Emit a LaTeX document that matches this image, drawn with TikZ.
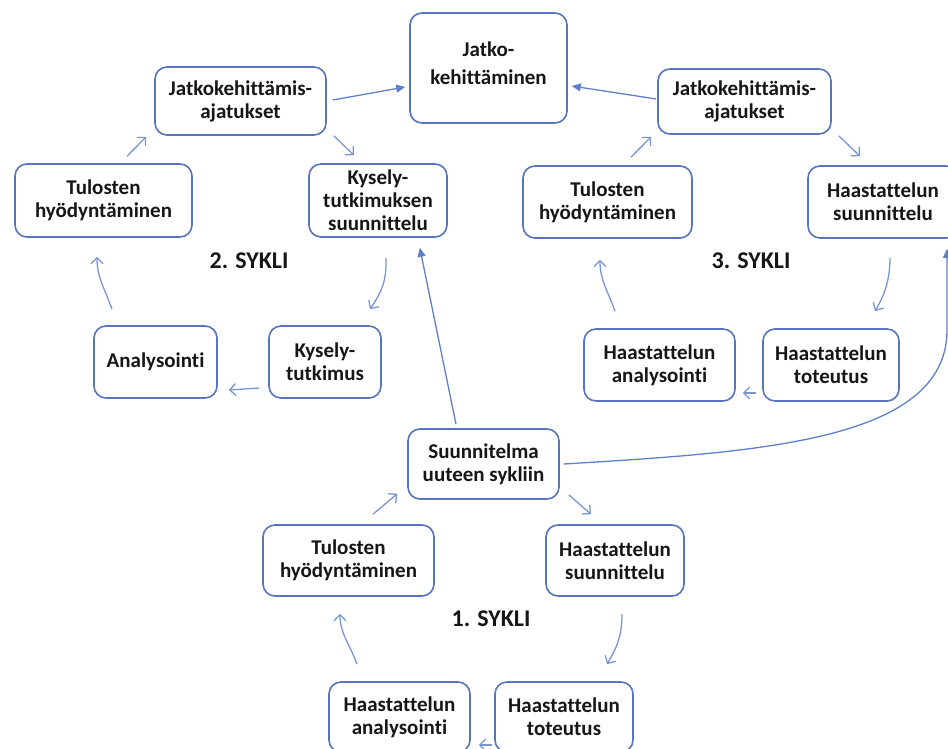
\documentclass[tikz,border=0pt]{standalone}
\usepackage{fontspec}
\setmainfont{Carlito}[RawFeature={-liga;-clig;-dlig}]
\usetikzlibrary{arrows.meta}
\definecolor{boxc}{RGB}{88,116,188}
\definecolor{arrc}{RGB}{122,150,210}
\definecolor{farrc}{RGB}{95,128,200}
\definecolor{txtc}{RGB}{22,22,22}
\begin{document}
\begin{tikzpicture}[x=1pt,y=-1pt,
  box/.style={draw=boxc, line width=1.6pt, rounded corners=12pt, align=center, inner sep=0pt,
    font=\fontsize{21}{23}\selectfont\bfseries, text=txtc},
  bx/.style n args={2}{box, minimum width=#1pt, minimum height=#2pt},
  txt/.style={align=center, inner sep=0pt, font=\fontsize{21}{28}\selectfont\bfseries, text=txtc},
  arr/.style={draw=arrc, line width=1.3pt, -{Straight Barb[length=6pt,width=12pt]}},
  farr/.style={draw=farrc, line width=1.3pt, -{Triangle[length=9pt,width=8pt]}},
  cyc/.style={font=\fontsize{24}{28}\selectfont\bfseries, text=txtc, inner sep=0pt}]
\useasboundingbox (0,0) rectangle (948,749);
\clip (0,0) rectangle (948,749);

% top
\node[bx={157}{110}] (jk) at (488.5,68) {};
\node[txt] (jkt) at (488.5,63) {Jatko-\\kehittäminen};

% cycle 2
\node[bx={171}{68}] (lja) at (240.5,101) {Jatkokehittämis-\\ajatukset};
\node[bx={177}{73}] (lth) at (103.5,200.5) {Tulosten\\hyödyntäminen};
\node[bx={138}{73}] (kts) at (378,200.5) {Kysely-\\tutkimuksen\\suunnittelu};
\node[bx={123}{72}] (an) at (155.5,362) {Analysointi};
\node[bx={112}{72}] (kt) at (325,362) {Kysely-\\tutkimus};
\node[cyc] (s2) at (249,261) {2. SYKLI};

% cycle 1
\node[bx={151}{70}] (su) at (483.5,464) {Suunnitelma\\uuteen sykliin};
\node[bx={171}{71}] (bth) at (348.5,560.5) {Tulosten\\hyödyntäminen};
\node[bx={138}{71}] (bhs) at (615,560.5) {Haastattelun\\suunnittelu};
\node[bx={141}{70}] (bha) at (399.5,717) {Haastattelun\\analysointi};
\node[bx={138}{70}] (bht) at (564,717) {Haastattelun\\toteutus};
\node[cyc] (s1) at (491,619) {1. SYKLI};

% cycle 3
\node[bx={173}{65}] (rja) at (744.5,101.5) {Jatkokehittämis-\\ajatukset};
\node[bx={169}{72}] (rth) at (607.5,202) {Tulosten\\hyödyntäminen};
\node[bx={150}{72}] (rhs) at (883,202) {Haastattelun\\suunnittelu};
\node[bx={151}{72}] (rha) at (659.5,365) {Haastattelun\\analysointi};
\node[bx={136}{72}] (rht) at (831,365) {Haastattelun\\toteutus};
\node[cyc] (s3) at (751,261) {3. SYKLI};

% connectors, cycle 2
\draw[arr] ([shift={(23.5,-7)}]lth.north) -- ([shift={(-8,1)}]lja.south west);
\draw[farr] ([shift={(6,-1)}]lja.east) -- ([shift={(-4,19)}]jk.west);
\draw[arr] ([shift={(7,0)}]lja.south east) -- ([shift={(-24,-8)}]kts.north);
\draw[arr] ([shift={(8,20)}]kts.south) .. controls +(1,25) and +(10,-15) .. ([shift={(45,-16)}]kt.north);
\draw[arr] ([shift={(-9,26)}]kt.west) -- ([shift={(11,28)}]an.east);
\draw[arr] ([shift={(-43.5,-16)}]an.north) .. controls +(-8,-22) and +(0,20) .. ([shift={(-6.5,19)}]lth.south);
\draw[farr] ([shift={(-27.5,-4)}]su.north) -- ([shift={(-28,10)}]kts.south east);

% connectors, cycle 1
\draw[arr] ([shift={(24.5,-10)}]bth.north) -- ([shift={(-10,-6)}]su.south west);
\draw[arr] ([shift={(9,-5)}]su.south east) -- ([shift={(-24,-10)}]bhs.north);
\draw[arr] ([shift={(7,17)}]bhs.south) .. controls +(0,25) and +(8,-14) .. ([shift={(43,-17)}]bht.north);
\draw[arr] ([shift={(-2,28)}]bht.west) -- ([shift={(8,28)}]bha.east);
\draw[arr] ([shift={(-42.5,-17)}]bha.north) .. controls +(-8,-22) and +(0,20) .. ([shift={(-8.5,17)}]bth.south);

% connectors, cycle 3
\draw[arr] ([shift={(23.5,-8)}]rth.north) -- ([shift={(-6,2)}]rja.south west);
\draw[farr] ([shift={(-1,-2.5)}]rja.west) -- ([shift={(4,18)}]jk.east);
\draw[arr] ([shift={(7,1)}]rja.south east) -- ([shift={(-23,-9)}]rhs.north);
\draw[arr] ([shift={(7,19)}]rhs.south) .. controls +(0,25) and +(8,-14) .. ([shift={(44,-17)}]rht.north);
\draw[arr] ([shift={(-6,28)}]rht.west) -- ([shift={(7,28)}]rha.east);
\draw[arr] ([shift={(-44.5,-17)}]rha.north) .. controls +(-8,-22) and +(0,20) .. ([shift={(-7.5,21)}]rth.south);

% long connector to cycle 3
\draw[farr] ([shift={(4,0)}]su.east) .. controls +(197,-12) and +(-1,110) .. ([shift={(64,92)}]rhs.south) -- ([shift={(64,10)}]rhs.south);
\end{tikzpicture}
\end{document}
